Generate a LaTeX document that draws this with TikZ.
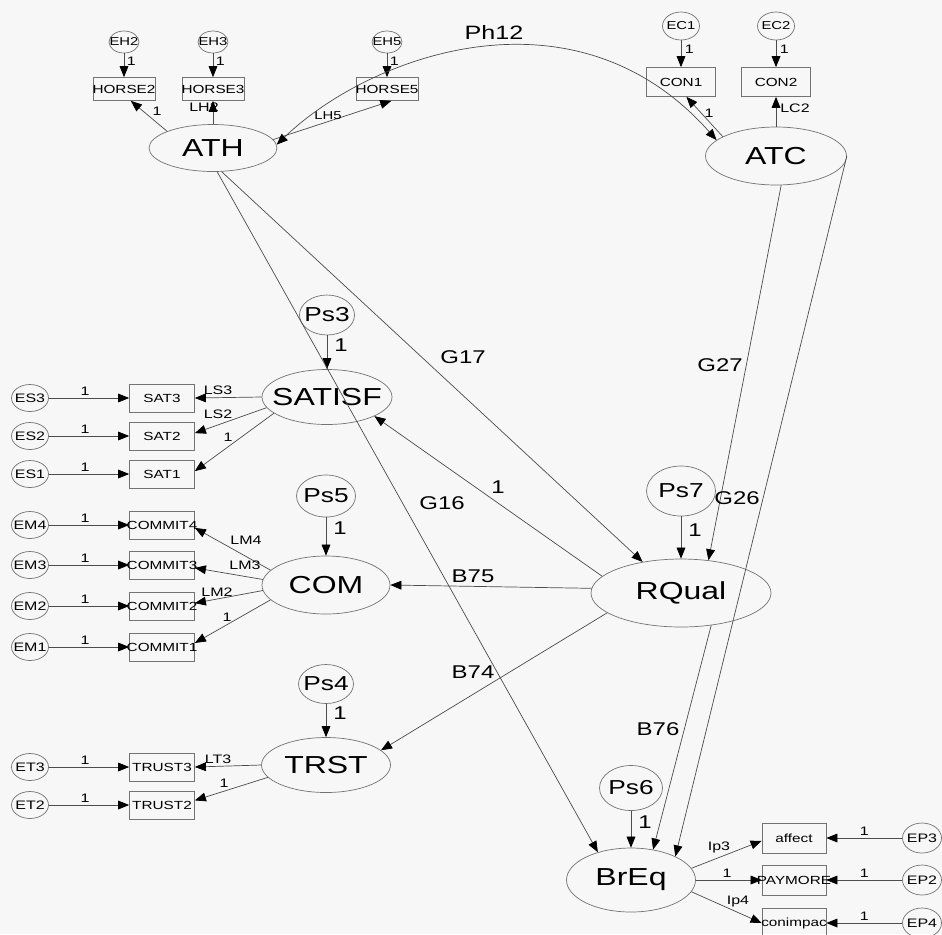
\documentclass[tikz,border=0pt]{standalone}
\usepackage{fontspec}
\setmainfont{Liberation Sans}[FakeStretch=1.3]
\usetikzlibrary{shapes.geometric, arrows.meta}

\newcommand{\nmtext}[1]{\makebox[0pt]{#1}}

\tikzset{
  lat/.style={ellipse, draw=black!55, inner sep=0pt, font=\fontsize{14}{16}\selectfont},
  dist/.style={ellipse, draw=black!55, inner sep=0pt, font=\fontsize{11.5}{13}\selectfont},
  err/.style={ellipse, draw=black!55, inner sep=0pt, font=\fontsize{7}{8}\selectfont,
    minimum width=0.74cm, minimum height=0.54cm},
  errsm/.style={err, font=\fontsize{6.5}{8}\selectfont},
  obs/.style={rectangle, draw=black!55, inner sep=0pt, font=\fontsize{6.7}{8}\selectfont,
    minimum width=1.3cm, minimum height=0.56cm},
  conn/.style={draw=black!70, line width=0.4pt},
  wt/.style={inner sep=0pt, font=\fontsize{7}{8}\selectfont},
  coef/.style={inner sep=0pt, font=\fontsize{10.5}{12}\selectfont},
}

\begin{document}
\begin{tikzpicture}[x=0.02cm, y=-0.02cm, >={Triangle[length=6.3pt,width=5pt,color=black]}]
  \useasboundingbox (0,0) rectangle (942,934);
  \fill[black!3] (0,0) rectangle (942,934);

  % latent variables
  \node[lat, minimum width=2.56cm, minimum height=0.94cm] (ATH)    at (213,148) {\nmtext{ATH}};
  \node[lat, minimum width=2.82cm, minimum height=1.16cm] (ATC)    at (776,156) {\nmtext{ATC}};
  \node[lat, minimum width=2.6cm,  minimum height=1.1cm]  (SATISF) at (327,397) {\nmtext{SATISF}};
  \node[lat, minimum width=2.56cm, minimum height=1.16cm] (COM)    at (326,585) {\nmtext{COM}};
  \node[lat, minimum width=2.58cm, minimum height=1.1cm]  (TRST)   at (326,765) {\nmtext{TRST}};
  \node[lat, minimum width=3.6cm,  minimum height=1.36cm] (RQual)  at (681,593) {\nmtext{RQual}};
  \node[lat, minimum width=2.58cm, minimum height=1.28cm] (BrEq)   at (631,880) {\nmtext{BrEq}};

  % disturbances
  \node[dist, minimum width=1.1cm,  minimum height=0.8cm]  (Ps3) at (327,315) {\nmtext{Ps3}};
  \node[dist, minimum width=1.18cm, minimum height=0.84cm] (Ps5) at (326,496) {\nmtext{Ps5}};
  \node[dist, minimum width=1.1cm,  minimum height=0.78cm] (Ps4) at (326,684) {\nmtext{Ps4}};
  \node[dist, minimum width=1.38cm, minimum height=1.0cm]  (Ps7) at (681,491) {\nmtext{Ps7}};
  \node[dist, minimum width=1.26cm, minimum height=0.9cm]  (Ps6) at (631,788) {\nmtext{Ps6}};
  \foreach \p/\l in {Ps3/SATISF, Ps5/COM, Ps4/TRST, Ps7/RQual, Ps6/BrEq}
    \draw[conn, ->] (\p) -- (\l);
  \node[coef] (lPs3) at (341,345) {1};
  \node[coef] (lPs5) at (340,528) {1};
  \node[coef] (lPs4) at (340,713) {1};
  \node[coef] (lPs7) at (695,530) {1};
  \node[coef] (lPs6) at (645,822) {1};

  % indicators on the left
  \foreach \e/\o/\y in {ES3/SAT3/398, ES2/SAT2/436, ES1/SAT1/474,
      EM4/COMMIT4/525, EM3/COMMIT3/565, EM2/COMMIT2/606, EM1/COMMIT1/647,
      ET3/TRUST3/767, ET2/TRUST2/805} {
    \node[err] (\e) at (30,\y) {\nmtext{\e}};
    \node[obs] (\o) at (162,\y) {\nmtext{\o}};
    \draw[conn, ->] (\e) -- node[wt, pos=0.45, above=1pt] (w\e) {1} (\o);
  }

  % indicators on top
  \foreach \e/\o/\x in {EH2/HORSE2/124, EH3/HORSE3/213, EH5/HORSE5/387} {
    \node[errsm, minimum width=0.6cm, minimum height=0.44cm] (\e) at (\x,42) {\nmtext{\e}};
    \node[obs, minimum width=1.24cm, minimum height=0.46cm] (\o) at (\x,89) {\nmtext{\o}};
    \draw[conn, ->] (\e) -- node[wt, pos=0.35, right=1.5pt] (w\e) {1} (\o);
  }
  \foreach \e/\o/\x in {EC1/CON1/681, EC2/CON2/776} {
    \node[errsm, minimum height=0.56cm] (\e) at (\x,26) {\nmtext{\e}};
    \node[obs, minimum width=1.38cm, minimum height=0.58cm] (\o) at (\x,82) {\nmtext{\o}};
    \draw[conn, ->] (\e) -- node[wt, pos=0.33, right=2pt] (w\e) {1} (\o);
  }

  % indicators on the right
  \foreach \e/\o/\y in {EP3/affect/838, EP2/PAYMORE/880, EP4/conimpac/923} {
    \node[err, minimum width=0.78cm, minimum height=0.6cm] (\e) at (922,\y) {\nmtext{\e}};
    \node[obs, minimum width=1.28cm, minimum height=0.6cm] (\o) at (794,\y) {\nmtext{\o}};
    \draw[conn, ->] (\e) -- node[wt, pos=0.5, above=1pt] (w\e) {1} (\o);
  }

  % loadings
  \draw[conn, ->] (ATH.160) -- (HORSE2.-60);
  \draw[conn, ->] (ATH.north) -- (HORSE3.south);
  \draw[conn, ->] (ATH.8) -- (HORSE5.-70);
  \draw[conn, ->] (ATC.160) -- (CON1.-70);
  \draw[conn, ->] (ATC.north) -- (CON2.south);
  \draw[conn, ->] (SATISF.west) -- (SAT3.east);
  \draw[conn, ->] (SATISF.190) -- (SAT2.5);
  \draw[conn, ->] (SATISF.197) -- (SAT1.5);
  \draw[conn, ->] (COM.165) -- (COMMIT4.-5);
  \draw[conn, ->] (COM.175) -- (COMMIT3.-5);
  \draw[conn, ->] (COM.185) -- (COMMIT2.5);
  \draw[conn, ->] (COM.195) -- (COMMIT1.7);
  \draw[conn, ->] (TRST.west) -- (TRUST3.east);
  \draw[conn, ->] (TRST.192) -- (TRUST2.8);
  \draw[conn, ->] (BrEq.11) -- (affect.185);
  \draw[conn, ->] (BrEq.east) -- (PAYMORE.west);
  \draw[conn, ->] (BrEq.-11) -- (conimpac.west);

  \node[wt] (lH2)  at (157,111) {1};
  \node[wt] (lLH2) at (204,107) {LH2};
  \node[wt, font=\fontsize{6.5}{8}\selectfont] (lLH5) at (328,116) {LH5};
  \node[wt] (lC1)  at (709,113) {1};
  \node[wt] (lLC2) at (795,108) {LC2};
  \node[wt] (lLS3) at (218,390) {LS3};
  \node[wt] (lLS2) at (218,414) {LS2};
  \node[wt] (lS1)  at (228,437) {1};
  \node[wt] (lLM4) at (246,540) {LM4};
  \node[wt] (lLM3) at (245,565) {LM3};
  \node[wt] (lLM2) at (217,592) {LM2};
  \node[wt] (lM1)  at (227,617) {1};
  \node[wt] (lLT3) at (218,759) {LT3};
  \node[wt] (lT2)  at (224,783) {1};
  \node[wt] (lIp3) at (719,847) {Ip3};
  \node[wt] (lP2)  at (727,873) {1};
  \node[wt] (lIp4) at (738,902) {Ip4};

  % structural paths
  \draw[conn, <->] (ATH.3) .. controls (370,55) and (575,-20) .. (ATC.165);
  \draw[conn, ->] (ATH.-80) -- (BrEq.140);
  \draw[conn, ->] (ATH.-70) -- (RQual.141);
  \draw[conn, ->] (ATC.-80) -- (RQual.50);
  \draw[conn, ->] (ATC.east) -- (BrEq.28);
  \draw[conn, ->] (RQual.168) -- (SATISF.-22);
  \draw[conn, ->] (RQual.177) -- (COM.east);
  \draw[conn, ->] (RQual.195) -- (TRST.15);
  \draw[conn, ->] (RQual.-47) -- (BrEq.54);

  \node[coef, font=\fontsize{11}{12}\selectfont] (lPh12) at (494,32) {Ph12};
  \node[coef] (lG17) at (463,357) {G17};
  \node[coef] (lG27) at (720,365) {G27};
  \node[coef] (lG26) at (737,498) {G26};
  \node[coef] (lG16) at (442,503) {G16};
  \node[coef] (lR1)  at (498,487) {1};
  \node[coef] (lB75) at (473,576) {B75};
  \node[coef] (lB74) at (473,672) {B74};
  \node[coef] (lB76) at (658,729) {B76};
\end{tikzpicture}
\end{document}
